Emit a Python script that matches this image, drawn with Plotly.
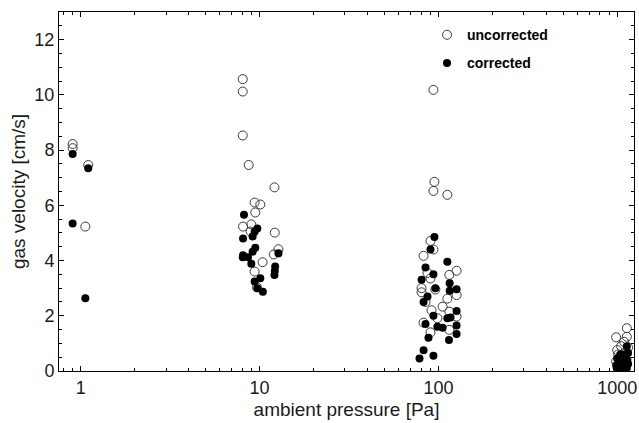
import plotly.graph_objects as go

# --- datos ---
# presión ambiente [Pa] y velocidad del gas [cm/s], sin corregir
p_uncorr = [0.90, 0.90, 1.10, 1.06,
            8.05, 8.05, 8.05, 8.69,
            12.11, 9.38, 10.09, 9.46, 8.08, 8.99, 12.16, 8.91, 12.75, 12.0, 10.39, 9.38, 9.66,
            93.8, 95.0, 93.8, 112.2, 90.3, 93.8, 82.6, 86.9, 90.3, 80.5, 96.2, 84.7, 91.5,
            82.6, 90.3, 80.5, 126.4, 115.1, 126.4, 112.2, 105.6, 115.1, 126.4, 115.1, 98.7,
            1132, 987, 1132, 1093, 1000, 1052, 1151, 1013, 1093, 1040, 1120, 987]
v_uncorr = [8.22, 8.07, 7.46, 5.23,
            10.57, 10.12, 8.53, 7.46,
            6.65, 6.10, 6.03, 5.74, 5.23, 5.31, 5.01, 5.05, 4.41, 4.22, 3.94, 3.60, 3.03,
            10.18, 6.85, 6.52, 6.38, 4.71, 4.40, 4.17, 3.55, 3.35, 3.00, 2.95, 2.50, 2.20,
            1.75, 1.40, 2.85, 3.63, 3.48, 2.75, 2.62, 2.33, 2.15, 1.97, 1.49, 1.91,
            1.55, 1.22, 1.24, 1.06, 0.76, 0.90, 0.85, 0.60, 0.55, 0.40, 0.70, 0.35]

# corregidos
p_corr = [0.90, 1.10, 0.90, 1.06,
          8.18, 9.71, 9.38, 8.08, 9.14, 9.46, 9.14, 8.08, 8.61, 8.05, 12.75, 12.22, 12.16,
          12.11, 8.99, 10.09, 9.38, 9.71, 10.43,
          95.0, 90.3, 84.7, 93.8, 80.5, 96.2, 86.9, 82.6, 93.8, 84.7, 88.0, 82.6, 93.8, 78.4,
          112.2, 115.6, 115.6, 126.4, 126.4, 112.2, 117.0, 126.4, 105.6, 126.4, 114.6, 98.7,
          987, 1013, 1030, 1070, 1093, 1132, 1151, 1000, 1052, 1110, 1140, 1025, 1080, 1040,
          1132, 1151, 995]
v_corr = [7.86, 7.34, 5.34, 2.63,
          5.66, 5.16, 5.04, 4.80, 4.87, 4.46, 4.32, 4.19, 4.12, 4.12, 4.26, 3.78, 3.62,
          3.48, 3.88, 3.36, 3.24, 3.00, 2.87,
          4.85, 4.40, 3.75, 3.50, 3.30, 3.00, 2.70, 2.50, 2.00, 1.70, 1.20, 0.75, 0.55, 0.45,
          3.96, 3.18, 2.91, 2.96, 2.17, 1.91, 1.94, 1.65, 1.57, 1.34, 1.12, 1.60,
          0.20, 0.10, 0.05, 0.15, 0.30, 0.10, 0.25, 0.45, 0.35, 0.60, 0.40, 0.25, 0.05, 0.60,
          0.90, 0.65, 0.10]

x_ticks = [1, 10, 100, 1000]
x_ticktext = ['1', '10', '100', '1000']
# marcas menores del eje logarítmico
x_minor = [0.8, 0.9] + [d * m for d in (1, 10, 100) for m in range(2, 10)]
y_ticks = [0, 2, 4, 6, 8, 10, 12]

fuente = 'Liberation Sans, Arial, sans-serif'

fig = go.Figure()

fig.add_trace(go.Scatter(x=p_uncorr, y=v_uncorr, mode='markers', name='uncorrected',
                         legendgroup='a',
                         marker=dict(symbol='circle-open', size=9, color='#3a3a3a',
                                     line=dict(width=1))))
fig.add_trace(go.Scatter(x=p_corr, y=v_corr, mode='markers', name='corrected',
                         legendgroup='b',
                         marker=dict(symbol='circle', size=8, color='black')))

ejes = dict(showline=True, linecolor='black', linewidth=1, mirror='ticks',
            ticks='inside', ticklen=5, tickcolor='black', showgrid=False, zeroline=False,
            ticklabeloverflow='allow',
            tickfont=dict(family=fuente, size=18, color='#1a1a1a'))

fig.update_xaxes(type='log', range=[-0.122, 3.094], tickvals=x_ticks, ticktext=x_ticktext,
                 minor=dict(ticks='inside', ticklen=3, tickcolor='black', showgrid=False,
                            tickvals=x_minor),
                 title=dict(text='ambient pressure [Pa]', font=dict(family=fuente, size=19, color='#1a1a1a'),
                            standoff=6),
                 **ejes)
fig.update_yaxes(range=[0, 13], tickvals=y_ticks,
                 minor=dict(ticks='inside', ticklen=3, tickcolor='black', dtick=0.5, showgrid=False),
                 title=dict(text='gas velocity [cm/s]', font=dict(family=fuente, size=19, color='#1a1a1a'),
                            standoff=3),
                 **ejes)

fig.update_layout(width=639, height=423,
                  margin=dict(l=59, r=2, t=12, b=52),
                  plot_bgcolor='white', paper_bgcolor='white',
                  font=dict(family=fuente),
                  legend=dict(x=0.64, y=0.98, xanchor='left', yanchor='top',
                              bgcolor='rgba(0,0,0,0)', tracegroupgap=7,
                              font=dict(family=fuente, size=14, color='black', weight='bold')))

fig.write_html('out.html', config={'displayModeBar': False},
               post_script="document.body.style.margin='0';")
